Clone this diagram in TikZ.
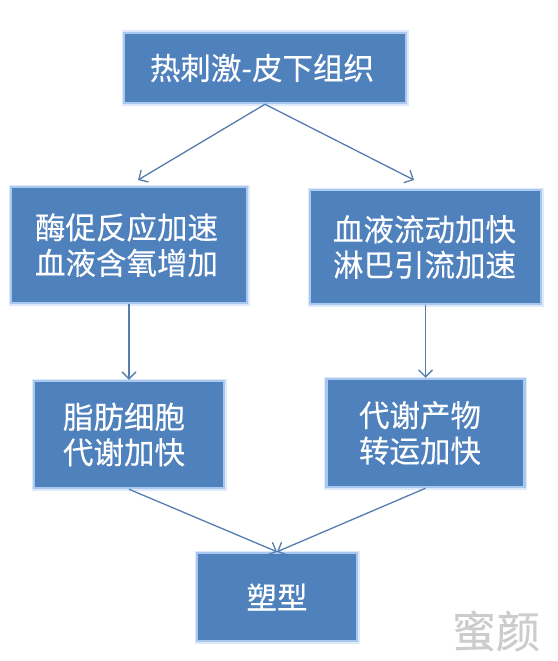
\documentclass[tikz,border=0pt]{standalone}
\usepackage{fontspec}
\usepackage{xcolor}
\usetikzlibrary{arrows.meta}
\setmainfont[FakeBold=0.25]{Noto Sans CJK SC}
\definecolor{dblue}{RGB}{79,129,189}
\definecolor{dglow}{RGB}{168,200,240}
\definecolor{dhalo}{RGB}{222,234,250}
\definecolor{dline}{RGB}{85,125,175}
\newcommand{\nudge}[1]{\hspace*{#1}}
\tikzset{
  bluebox/.style={rectangle, fill=dblue, draw=dglow, line width=2.5pt, text=white, align=center,
    font=\fontsize{30.5}{35.5}\selectfont, inner sep=0pt,
    preaction={draw=dhalo, line width=5pt}},
  flow/.style={draw=dline, line width=1.3pt, -{Straight Barb[length=7pt,width=14pt]}}
}
\begin{document}
\begin{tikzpicture}[x=1pt, y=-1pt]
  \useasboundingbox (0,0) rectangle (557,661);
  \fill[white] (0,0) rectangle (557,661);
  % Boxes, top to bottom
  \node[bluebox, minimum width=282pt, minimum height=70pt] (heat) at (265,68) {热刺激-皮下组织\nudge{6pt}};
  \node[bluebox, minimum width=236pt, minimum height=116pt] (enzyme) at (129,245) {酶促反应加速\nudge{5pt}\\血液含氧增加\nudge{5pt}};
  \node[bluebox, minimum width=231pt, minimum height=114pt] (blood) at (425.5,247) {血液流动加快\nudge{2pt}\\淋巴引流加速\nudge{2pt}};
  \node[bluebox, minimum width=190pt, minimum height=107pt] (fat) at (129,434.5) {脂肪细胞\nudge{10pt}\\代谢加快\nudge{10pt}};
  \node[bluebox, minimum width=198pt, minimum height=108pt] (waste) at (425.5,433) {代谢产物\nudge{11pt}\\转运加快\nudge{11pt}};
  \node[bluebox, minimum width=160pt, minimum height=88pt] (shape) at (277,597) {塑型};
  % Free ends of the first two arrows
  \coordinate (enzymein) at (138,180);
  \coordinate (bloodin) at (414,180);
  % Arrows
  \draw[flow] (heat.south) -- (enzymein);
  \draw[flow] (heat.south) -- (bloodin);
  \draw[flow] (enzyme.south) -- (fat.north);
  \draw[flow] (blood.south) -- (waste.north);
  \draw[flow] (fat.south) -- (shape.north);
  \draw[flow] (waste.south) -- (shape.north);
  % Watermark
  \node[text=gray!40, font=\fontsize{44}{44}\selectfont, inner sep=0pt] (mark) at (496,631) {蜜颜};
\end{tikzpicture}
\end{document}
